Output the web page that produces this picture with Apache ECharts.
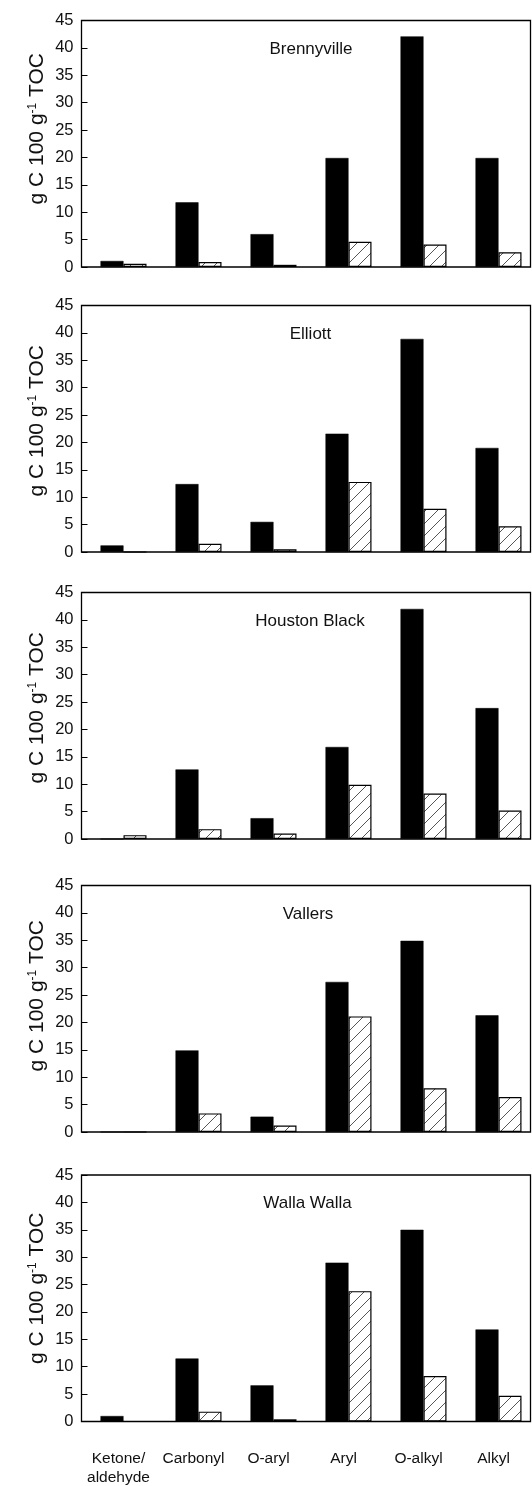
<!DOCTYPE html>
<html><head><meta charset="utf-8">
<script src="https://cdn.jsdelivr.net/npm/echarts@6/dist/echarts.min.js"></script>
<style>html,body{margin:0;padding:0;background:#fff}#c{width:532px;height:1486px}</style>
</head><body><div id="c"></div><script>
// ---- data ----
const categories = ['Ketone/\naldehyde', 'Carbonyl', 'O-aryl', 'Aryl', 'O-alkyl', 'Alkyl'];
const soils = ['Brennyville', 'Elliott', 'Houston Black', 'Vallers', 'Walla Walla'];
const brennyvilleSolid   = [1.1, 11.8, 6.0, 19.9, 42.1, 19.9];
const brennyvilleHatched = [0.6, 0.9, 0.4, 4.6, 4.1, 2.7];
const elliottSolid       = [1.2, 12.4, 5.5, 21.6, 38.9, 19.0];
const elliottHatched     = [0, 1.5, 0.5, 12.8, 7.9, 4.7];
const houstonSolid       = [0, 12.7, 3.8, 16.8, 42.0, 23.9];
const houstonHatched     = [0.7, 1.8, 1.0, 9.9, 8.3, 5.2];
const vallersSolid       = [0, 14.9, 2.8, 27.4, 34.9, 21.3];
const vallersHatched     = [0, 3.4, 1.2, 21.1, 8.0, 6.4];
const wallaSolid         = [1.0, 11.5, 6.6, 29.0, 35.0, 16.8];
const wallaHatched       = [0, 1.8, 0.4, 23.8, 8.3, 4.7];
const yMin = 0, yMax = 45, yStep = 5;
const yName = 'g C 100 g{sup|-1} TOC';

const solidSets = [brennyvilleSolid, elliottSolid, houstonSolid, vallersSolid, wallaSolid];
const hatchedSets = [brennyvilleHatched, elliottHatched, houstonHatched, vallersHatched, wallaHatched];

// ---- layout ----
const panelTops = [20.5, 305.5, 592.5, 885.5, 1175];
const panelHeight = 246.5;
const frameLeft = 81.5, frameRight = 530.5;
const barsLeft = 86, barsWidth = 450;
const titleX = [311, 310.5, 310, 308, 307.5];
const nameShift = [30, 16, 16, 26, 20];
const FONT = '"Liberation Sans", Arial, Helvetica, sans-serif';

function hatchCanvas() {
  const n = 12;
  const c = document.createElement('canvas');
  c.width = n; c.height = n;
  const g = c.getContext('2d');
  g.fillStyle = '#fff'; g.fillRect(0, 0, n, n);
  g.strokeStyle = '#555'; g.lineWidth = 1;
  g.beginPath();
  g.moveTo(-1, n + 1); g.lineTo(n + 1, -1);
  g.moveTo(-n / 2 - 1, n / 2 + 1); g.lineTo(n / 2 + 1, -n / 2 - 1);
  g.moveTo(n / 2 - 1, 1.5 * n + 1); g.lineTo(1.5 * n + 1, n / 2 - 1);
  g.stroke();
  return c;
}
const hatch = hatchCanvas();

const grids = [], xAxes = [], yAxes = [], series = [], titles = [], graphics = [];
soils.forEach((s, i) => {
  grids.push({ left: barsLeft, width: barsWidth, top: panelTops[i], height: panelHeight,
    containLabel: false, outerBoundsMode: 'none' });
  xAxes.push({
    gridIndex: i, type: 'category', data: categories,
    axisLine: { show: false }, axisTick: { show: false },
    axisLabel: { show: i === soils.length - 1, interval: 0, fontFamily: FONT, fontSize: 15.5,
      color: '#111', margin: 28, lineHeight: 19, padding: [0, 10, 0, 0] }
  });
  yAxes.push({
    gridIndex: i, type: 'value', min: yMin, max: yMax, interval: yStep,
    offset: barsLeft - frameLeft,
    axisLine: { show: false },
    axisTick: { show: true, inside: true, length: 6, lineStyle: { color: '#000', width: 1 } },
    splitLine: { show: false },
    axisLabel: { fontFamily: FONT, fontSize: 16.5, color: '#111', margin: 8 },
    name: yName, nameLocation: 'middle', nameGap: 34, nameRotate: 90, nameMoveOverlap: false,
    nameTextStyle: { fontFamily: FONT, fontSize: 21, color: '#111', padding: [0, 0, 0, nameShift[i]],
      rich: { sup: { fontFamily: FONT, fontSize: 12, verticalAlign: 'top', color: '#111' } } }
  });
  series.push({
    type: 'bar', xAxisIndex: i, yAxisIndex: i, data: solidSets[i],
    barWidth: 23, barGap: '0%',
    itemStyle: { color: '#000', borderColor: '#000', borderWidth: 0.5 },
    emphasis: { disabled: true }
  });
  series.push({
    type: 'bar', xAxisIndex: i, yAxisIndex: i, data: hatchedSets[i],
    barWidth: 23, barGap: '0%',
    itemStyle: { color: { image: hatch, repeat: 'repeat' }, borderColor: '#000', borderWidth: 1.2 },
    emphasis: { disabled: true }
  });
  titles.push({
    text: s, left: titleX[i] - 5, top: panelTops[i] + 15, textAlign: 'center',
    textStyle: { fontFamily: FONT, fontSize: 17, fontWeight: 'normal', color: '#111' }
  });
  graphics.push({
    type: 'rect', silent: true, z: 10,
    shape: { x: frameLeft, y: panelTops[i], width: frameRight - frameLeft, height: panelHeight },
    style: { fill: null, stroke: '#000', lineWidth: 1.3 }
  });
});

const chart = echarts.init(document.getElementById('c'), null, { renderer: 'canvas' });
chart.setOption({
  animation: false,
  backgroundColor: '#fff',
  title: titles,
  grid: grids, xAxis: xAxes, yAxis: yAxes, series: series,
  graphic: graphics
});
</script></body></html>
